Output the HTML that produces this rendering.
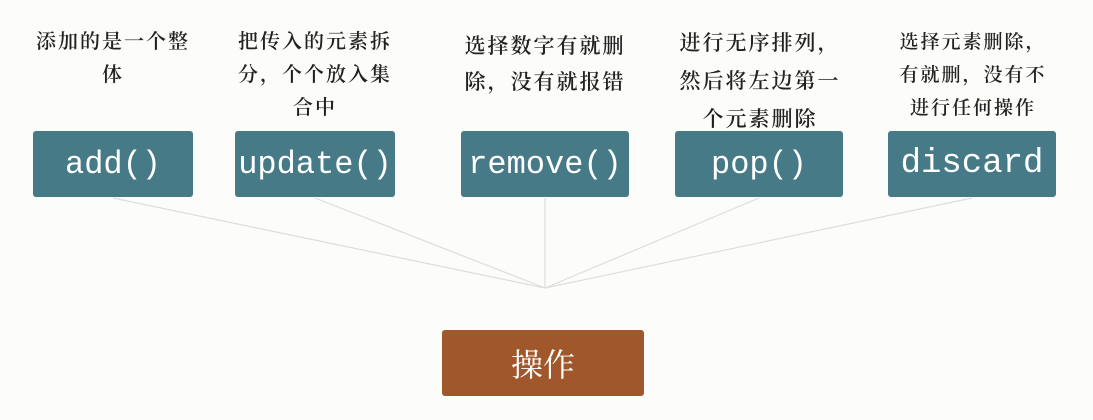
<!DOCTYPE html>
<html><head><meta charset="utf-8"><style>
body{margin:0;width:1093px;height:420px;background:#fcfcfa;position:relative;overflow:hidden;font-family:"Liberation Serif","Noto Serif CJK SC",serif}
.b{position:absolute;top:131px;height:66px;background:#467a87;border-radius:3px;color:#fff;font-size:32px;display:flex;align-items:center;justify-content:center;font-family:"Liberation Mono",monospace}
.t{position:absolute;color:#222;font-size:20px;text-align:center;line-height:33px;letter-spacing:2px;font-weight:600}
</style></head><body>
<svg width="1093" height="420" style="position:absolute;left:0;top:0">
<g stroke="#ddd" stroke-width="1.2">
<line x1="113" y1="198" x2="545" y2="288"/><line x1="315" y1="198" x2="545" y2="288"/>
<line x1="545" y1="198" x2="545" y2="288"/><line x1="759" y1="198" x2="545" y2="288"/>
<line x1="972" y1="198" x2="545" y2="288"/></g></svg>
<div class="t" style="left:8px;top:26px;width:210px">添加的是一个整<br>体</div>
<div class="t" style="left:220px;top:26px;width:190px">把传入的元素拆<br>分，个个放入集<br>合中</div>
<div class="t" style="left:440px;top:28px;width:210px;font-size:21px;line-height:36px">选择数字有就删<br>除，没有就报错</div>
<div class="t" style="left:650px;top:24px;width:220px;font-size:21px;line-height:38px">进行无序排列，<br>然后将左边第一<br>个元素删除</div>
<div class="t" style="left:868px;top:26px;width:210px;font-size:19px;line-height:33px">选择元素删除，<br>有就删，没有不<br>进行任何操作</div>
<div class="b" style="left:33px;width:160px">add()</div>
<div class="b" style="left:235px;width:160px">update()</div>
<div class="b" style="left:461px;width:168px">remove()</div>
<div class="b" style="left:675px;width:168px">pop()</div>
<div class="b" style="left:888px;width:168px;font-size:34px">discard</div>
<div class="b" style="left:442px;top:330px;width:202px;background:#a0572c;font-family:'Liberation Serif','Noto Serif CJK SC',serif;font-size:32px">操作</div>
</body></html>
